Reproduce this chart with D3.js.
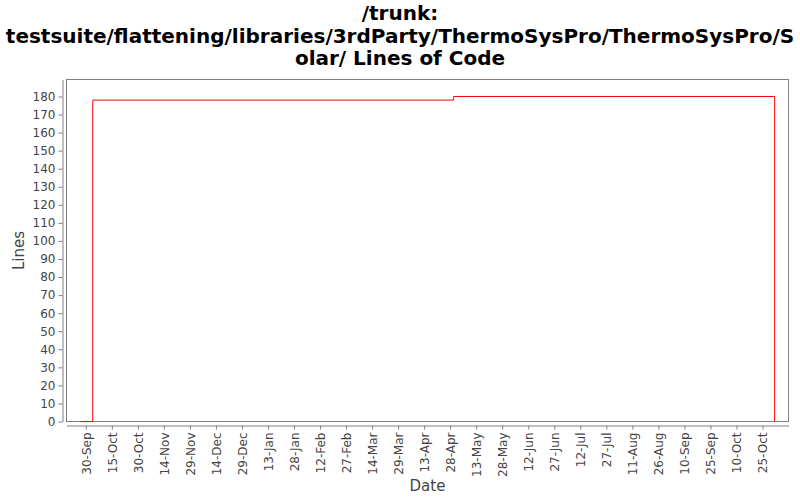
<!DOCTYPE html>
<html>
<head>
<meta charset="utf-8">
<script src="https://cdn.jsdelivr.net/npm/d3@7"></script>
<style>
  body { margin: 0; background: #fff; }
  svg { font-family: 'DejaVu Sans', sans-serif; }
</style>
</head>
<body>
<div id="graph"></div>
<script>
'use strict'

// chart data
let titleLines = [
  '/trunk:',
  'testsuite/flattening/libraries/3rdParty/ThermoSysPro/ThermoSysPro/S',
  'olar/ Lines of Code'
]
let dates = ['2010-09-27', '2010-10-04', '2011-04-30', '2011-11-01']
let lines = [0, 178, 180, 0]
let tickDates = ['2010-09-30', '2010-10-15', '2010-10-30', '2010-11-14', '2010-11-29',
  '2010-12-14', '2010-12-29', '2011-01-13', '2011-01-28', '2011-02-12', '2011-02-27',
  '2011-03-14', '2011-03-29', '2011-04-13', '2011-04-28', '2011-05-13', '2011-05-28',
  '2011-06-12', '2011-06-27', '2011-07-12', '2011-07-27', '2011-08-11', '2011-08-26',
  '2011-09-10', '2011-09-25', '2011-10-10', '2011-10-25']
let yTicks = d3.range(0, 181, 10)
let xDomain = ['2010-09-18T21:00', '2011-11-09T00:00']
let yDomain = [0, 189.4]

let parse = d3.timeParse('%Y-%m-%d')
let parseT = d3.timeParse('%Y-%m-%dT%H:%M')

let cw = 800, ch = 500
let plot = { left: 66.5, right: 788.5, top: 79.5, bottom: 421.5 }

let svg = d3.select('#graph').append('svg')
  .attr('width', cw)
  .attr('height', ch)

let x = d3.scaleTime()
  .domain(xDomain.map(parseT))
  .range([plot.left, plot.right])
let y = d3.scaleLinear()
  .domain(yDomain)
  .range([plot.bottom, plot.top])

// title
let title = svg.append('text')
  .attr('text-anchor', 'middle')
  .attr('font-size', 20)
  .attr('font-weight', 'bold')
  .attr('fill', '#000')
title.selectAll('tspan')
  .data(titleLines)
  .join('tspan')
    .attr('x', cw / 2)
    .attr('y', (d, i) => 20 + i * 22.5)
    .text(d => d)

// plot area
svg.append('rect')
  .attr('x', plot.left)
  .attr('y', plot.top)
  .attr('width', plot.right - plot.left)
  .attr('height', plot.bottom - plot.top)
  .attr('fill', '#fff')
  .attr('stroke', '#808080')

// y axis
let yAxis = svg.append('g')
  .attr('transform', `translate(${plot.left - 4}, 0)`)
  .call(d3.axisLeft(y).tickValues(yTicks).tickSizeInner(4).tickSizeOuter(0).tickPadding(3))
yAxis.select('.domain').attr('stroke', '#808080')
yAxis.selectAll('.tick line').attr('stroke', '#808080')
yAxis.selectAll('.tick text')
  .attr('fill', '#444')
  .attr('font-size', 12)
  .attr('font-family', "'DejaVu Sans', sans-serif")

// x axis
let xAxis = svg.append('g')
  .attr('transform', `translate(0, ${plot.bottom + 4})`)
  .call(d3.axisBottom(x)
    .tickValues(tickDates.map(parse))
    .tickFormat(d3.timeFormat('%d-%b'))
    .tickSizeInner(4).tickSizeOuter(0))
xAxis.select('.domain').attr('stroke', '#808080')
xAxis.selectAll('.tick line').attr('stroke', '#808080')
xAxis.selectAll('.tick text')
  .attr('fill', '#444')
  .attr('font-size', 12)
  .attr('font-family', "'DejaVu Sans', sans-serif")
  .attr('transform', 'rotate(-90)')
  .attr('text-anchor', 'end')
  .attr('x', -7)
  .attr('y', 0)
  .attr('dy', '0.35em')

// axis labels
svg.append('text')
  .attr('transform', `translate(24, ${(plot.top + plot.bottom) / 2}) rotate(-90)`)
  .attr('text-anchor', 'middle')
  .attr('font-size', 15)
  .attr('fill', '#444')
  .text('Lines')

svg.append('text')
  .attr('x', (plot.left + plot.right) / 2)
  .attr('y', 491)
  .attr('text-anchor', 'middle')
  .attr('font-size', 15)
  .attr('fill', '#444')
  .text('Date')

// series
let data = dates.map((d, i) => ({ date: parse(d), value: lines[i] }))
let line = d3.line()
  .x(d => x(d.date))
  .y(d => y(d.value))
  .curve(d3.curveStepAfter)

svg.append('path')
  .datum(data)
  .attr('fill', 'none')
  .attr('stroke', 'red')
  .attr('stroke-width', 1)
  .attr('d', line)
</script>
</body>
</html>
